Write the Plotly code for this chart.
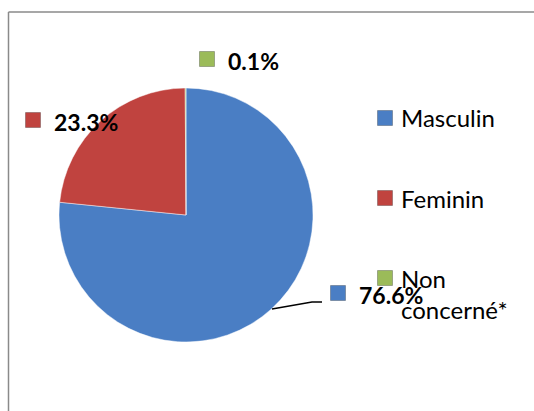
import plotly.graph_objects as go

categories = ["Masculin", "Feminin", "Non concerné*"]
values = [76.6, 23.3, 0.1]
legend_labels = ["Masculin", "Feminin", "Non<br>concerné*"]
colors = ["#4a7ec4", "#c0433f", "#9bbb59"]

W, H = 534, 411

def px(x):
    return x / W

def py(y):
    return 1 - y / H

cx, cy, r = 186, 215, 127

fig = go.Figure(go.Pie(
    labels=categories,
    values=values,
    sort=False,
    direction="clockwise",
    rotation=0,
    textinfo="none",
    marker=dict(colors=colors, line=dict(color="rgba(255,255,255,0.45)", width=1)),
    domain=dict(x=[px(cx - r), px(cx + r)], y=[py(cy + r), py(cy - r)]),
    showlegend=False,
))

shapes = []
annotations = []

# chart frame (left and top edges visible)
frame = dict(color="#8a8a8a", width=1.5)
shapes.append(dict(type="line", xref="paper", yref="paper",
                   x0=px(8.5), x1=px(8.5), y0=0, y1=py(12), line=frame))
shapes.append(dict(type="line", xref="paper", yref="paper",
                   x0=px(8.5), x1=1, y0=py(12), y1=py(12), line=frame))

def square(x, y, color, s=15):
    shapes.append(dict(type="rect", xref="paper", yref="paper",
                       x0=px(x - s / 2), x1=px(x + s / 2),
                       y0=py(y + s / 2), y1=py(y - s / 2),
                       fillcolor=color, line=dict(color="rgba(0,0,0,0.25)", width=1)))

# data labels (square + bold percentage)
label_pos = [((338, 293), (357, 295)), ((33, 120), (52, 122)), ((207, 59), (226, 61))]
for v, col, (sq, tx) in zip(values, colors, label_pos):
    square(sq[0], sq[1], col)
    annotations.append(dict(xref="paper", yref="paper", x=px(tx[0]), y=py(tx[1]),
                            xanchor="left", yanchor="middle", showarrow=False,
                            text=f"<b>{v:.1f}%</b>",
                            font=dict(family="Lato", size=23, color="#000000")))

# leader line for 76.6%
shapes.append(dict(type="path", xref="paper", yref="paper",
                   path=f"M {px(272)},{py(309)} L {px(312)},{py(302)} L {px(322)},{py(302)}",
                   line=dict(color="#000000", width=1.3)))

# legend
leg_pos = [(385, 118, 118), (385, 198, 198), (385, 278, 294)]
for lab, col, (sx, sy, ty) in zip(legend_labels, colors, leg_pos):
    square(sx, sy, col)
    annotations.append(dict(xref="paper", yref="paper", x=px(399), y=py(ty),
                            xanchor="left", yanchor="middle", align="left", showarrow=False,
                            text=lab,
                            font=dict(family="Lato", size=24, color="#000000")))

fig.update_layout(
    width=W, height=H,
    margin=dict(l=0, r=0, t=0, b=0),
    paper_bgcolor="white",
    plot_bgcolor="white",
    shapes=shapes,
    annotations=annotations,
)

fig.write_html(
    "out.html",
    config={"displayModeBar": False},
    post_script="document.body.style.margin='0';document.body.style.overflow='hidden';",
)
